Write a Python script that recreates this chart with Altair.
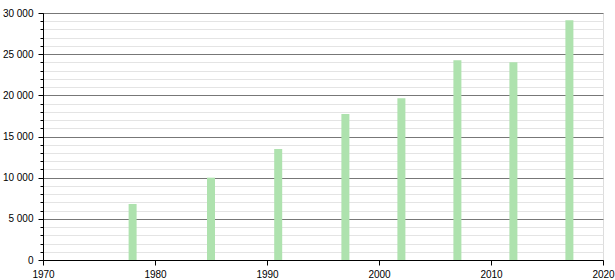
import altair as alt
import pandas as pd

years = [1978, 1985, 1991, 1997, 2002, 2007, 2012, 2017]
population = [6800, 10000, 13480, 17730, 19660, 24250, 24010, 29110]

major_ticks = [0, 5000, 10000, 15000, 20000, 25000, 30000]
minor_ticks = list(range(0, 30001, 1000))
x_ticks = [1970, 1980, 1990, 2000, 2010, 2020]

df = pd.DataFrame({"year": years, "pop": population})

label_expr = "replace(format(datum.value, ',d'), ',', ' ')"

x_enc = alt.X("year:Q", scale=alt.Scale(domain=[1970, 2020], nice=False, zero=False, padding=0),
              axis=alt.Axis(values=x_ticks, format="d", grid=False, title=None,
                            tickSize=5, labelPadding=4, domainColor="black",
                            tickColor="black", labelFont="Liberation Sans",
                            labelFontSize=10, labelColor="black", labelFlush=False,
                            labelOverlap=False))

minor = alt.Chart(df).mark_bar(opacity=0).encode(
    x=x_enc,
    y=alt.Y("pop:Q", scale=alt.Scale(domain=[0, 30000], nice=False),
            axis=alt.Axis(orient="left", values=minor_ticks, labels=False, title=None,
                          domain=False, tickSize=3, tickColor="black",
                          grid=True, gridColor="#e4e4e4", gridWidth=1)),
)

bars = alt.Chart(df).mark_bar(color="#aee2ae", size=8).encode(
    x=x_enc,
    y=alt.Y("pop:Q", scale=alt.Scale(domain=[0, 30000], nice=False),
            axis=alt.Axis(orient="left", values=major_ticks, labelExpr=label_expr, title=None,
                          domainColor="black", tickColor="black", tickSize=5, labelPadding=5,
                          grid=True, gridColor="#777777", gridWidth=1, labelFlush=False,
                          labelFont="Liberation Sans", labelFontSize=10, labelColor="black")),
)

chart = alt.layer(minor, bars).resolve_axis(y="independent").properties(
    width=560, height=247,
    autosize=alt.AutoSizeParams(type="none"),
    padding={"left": 43, "top": 13, "right": 12, "bottom": 20},
).configure_view(stroke=None).configure(background="white")

chart.save("out.html", embed_options={"renderer": "svg", "actions": False})
